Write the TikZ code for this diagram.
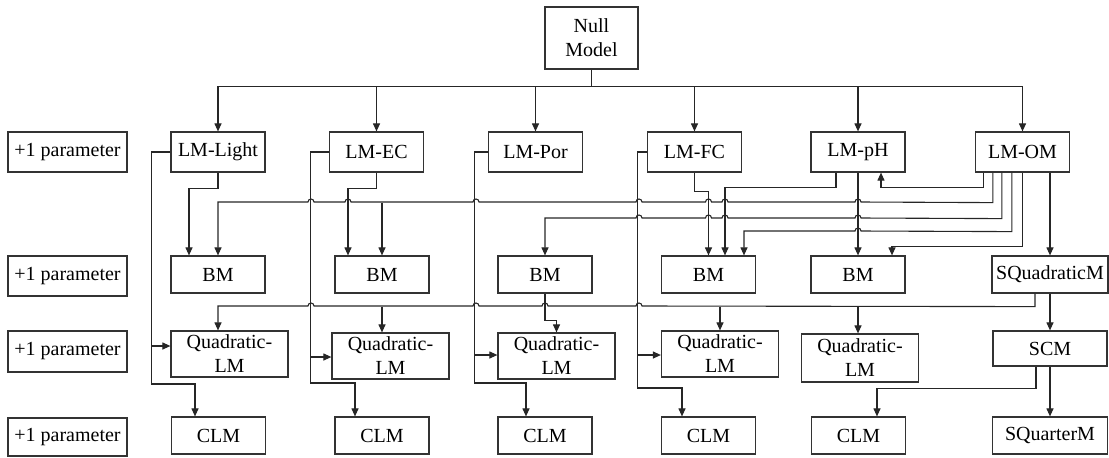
\documentclass[tikz,border=0pt]{standalone}
\usepackage{fontspec}
\setmainfont{Liberation Serif}
\usetikzlibrary{calc,arrows.meta}
\tikzset{
	>={Triangle[length=4pt,width=3.5pt]},
	model/.style={
		rectangle,
		draw=black!80, line width=0.6pt,
		inner sep=0pt,
		minimum width=47pt,
		minimum height=18.5pt,
		align=center},
	lmbox/.style={model, minimum height=20pt},
	qbox/.style={model, minimum width=58.5pt, minimum height=23pt},
	tag/.style={model, minimum width=59.5pt},
	line/.style={draw=black!85, line width=0.55pt},
}

\begin{document}
\begin{tikzpicture}[x=0.5pt,y=-0.5pt]
\useasboundingbox (0,0) rectangle (1109,457);

% row labels
\foreach \i/\y/\h in {1/152/20pt,2/276/20pt,3/351.5/20.5pt,4/437/19pt}
	\node[tag, minimum height=\h] (tag\i) at (67.5,\y) {+1 parameter};

\node[model, minimum width=46.5pt, minimum height=31pt] (null) at (591.5,38) {Null\\Model};

% one parameter
\node[lmbox] (light) at (218,152)   {LM-Light};
\node[lmbox] (ec)    at (376.5,152) {LM-EC};
\node[lmbox] (por)   at (535.5,152) {LM-Por};
\node[lmbox] (fc)    at (694.5,152) {LM-FC};
\node[lmbox] (ph)    at (858,152)   {LM-pH};
\node[lmbox] (om)    at (1022.5,152){LM-OM};

% two parameters
\node[model] (bm1) at (218,274.5)   {BM};
\node[model] (bm2) at (382,274.5)   {BM};
\node[model] (bm3) at (545,274.5)   {BM};
\node[model] (bm4) at (708.5,274.5) {BM};
\node[model] (bm5) at (858,274.5)   {BM};
\node[model, minimum width=58pt] (sq) at (1050,274.5) {SQuadraticM};

% three parameters
\node[qbox] (q1) at (229.5,354) {Quadratic-\\LM};
\node[qbox] (q2) at (390.5,356) {Quadratic-\\LM};
\node[qbox] (q3) at (556.5,356) {Quadratic-\\LM};
\node[qbox] (q4) at (720,354)   {Quadratic-\\LM};
\node[qbox, minimum height=24pt] (q5) at (860,358) {Quadratic-\\LM};
\node[model, minimum width=57pt, minimum height=17.5pt] (scm) at (1050,348.5) {SCM};

% four parameters
\node[model] (clm1) at (218.5,435.5) {CLM};
\node[model] (clm2) at (382,435.5)   {CLM};
\node[model] (clm3) at (545,435.5)   {CLM};
\node[model] (clm4) at (708.5,435.5) {CLM};
\node[model] (clm5) at (858.5,435.5) {CLM};
\node[model, minimum width=57.5pt] (sqm) at (1050,435.5) {SQuarterM};

% null model to the single terms
\draw[line] (null.south) -- ++(0,17) coordinate (top);
\foreach \n in {light,ec,por,fc,ph,om}
	\draw[line,->] (top) -| (\n.north);

% left feeders
\draw[line,->] (light.west) -| ++(-19,232) -| ($(clm1.north)+(-23.5,0)$);
\draw[line,->] ($(q1.west)+(-19,-8)$) -- ($(q1.west)+(0,-8)$);
\draw[line,->] (ec.west) -| ++(-18,231) -| ($(clm2.north)+(-27,0)$);
\draw[line,->] ($(q2.west)+(-21,1)$) -- ($(q2.west)+(0,1)$);
\draw[line,->] (por.west) -| ++(-13,231) -| ($(clm3.north)+(-19,0)$);
\draw[line,->] ($(q3.west)+(-22,-1)$) -- ($(q3.west)+(0,-1)$);
\draw[line,->] (fc.west) -| ++(-9,236) -| ($(clm4.north)+(-26.5,0)$);
\draw[line,->] ($(q4.west)+(-23,1)$) -- ($(q4.west)+(0,1)$);

% single terms to BM
\draw[line,->] (light.south) -- ++(0,16) -| ($(bm1.north)+(-29,0)$);
\draw[line,->] (ec.south) -- ++(0,16) -| ($(bm2.north)+(-34,0)$);
\draw[line,->] (fc.south) -- ++(0,19) -| (bm4.north);
\draw[line,->] (ph.south) -- (bm5.north);
\draw[line,->] ($(ph.south)+(-22,0)$) -- ++(0,15) -| ($(bm4.north)+(16.5,0)$);

% LM-OM fan
\draw[line,->] ($(om.south west)+(9,0)$) -- ++(0,15) -| ($(ph.south)+(23,0)$);
\draw[line,->] ($(om.south west)+(18,0)$) -- ++(0,30) coordinate (rowA)
	\foreach \h in {858,725,708.5,639,476,348,311}
	{ -- (\h+3,202) arc[start angle=0,end angle=180,radius=1.5pt] } -| (bm1.north);
\draw[line,->] (rowA -| bm2.north) -- (bm2.north);
\draw[line,->] ($(om.south west)+(27,0)$) -- ++(0,46)
	\foreach \h in {858,725,708.5,639}
	{ -- (\h+3,218) arc[start angle=0,end angle=180,radius=1.5pt] } -| (bm3.north);
\draw[line,->] ($(om.south west)+(37,0)$) -- ++(0,59)
	\foreach \h in {858}
	{ -- (\h+3,231) arc[start angle=0,end angle=180,radius=1.5pt] } -| ($(bm4.north)+(35.5,0)$);
\draw[line,->] (om.south) -- ++(0,74) -| ($(bm5.north)+(34,0)$);
\draw[line,->] (sq.north |- om.south) -- (sq.north);

% to the quadratic row
\draw[line,->] (bm3.south) -- ++(0,27) -| (q3.north);
\draw[line,->] ($(sq.south)+(-15,0)$) -- ++(0,13) coordinate (rowB)
	\foreach \h in {639,545,476,311}
	{ -- (\h+3,306) arc[start angle=0,end angle=180,radius=1.5pt] } -| (bm1.south |- q1.north);
\foreach \n/\m in {bm2/q2,q4/q4,bm5/q5}
	\draw[line,->] (rowB -| \n.south) -- (\n.south |- \m.north);
\draw[line,->] (sq.south) -- (scm.north);

% last row
\draw[line,->] (scm.south) -- (sqm.north);
\draw[line,->] ($(scm.south)+(-14,0)$) -- ++(0,22) -| ($(clm5.north)+(18.5,0)$);
\end{tikzpicture}
\end{document}
